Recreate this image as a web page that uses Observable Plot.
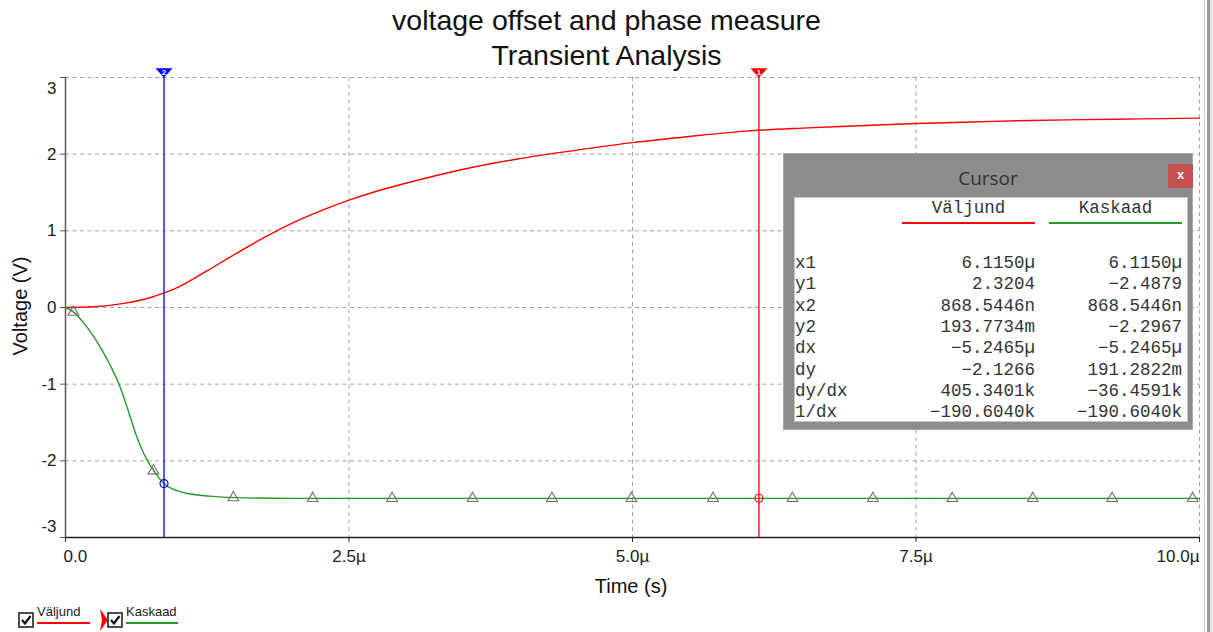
<!DOCTYPE html>
<html><head><meta charset="utf-8">
<script src="https://cdn.jsdelivr.net/npm/d3@7"></script>
<script src="https://cdn.jsdelivr.net/npm/@observablehq/plot@0.6"></script>
<style>
body{margin:0;background:#fff;width:1213px;height:632px;overflow:hidden;position:relative;font-family:"Liberation Sans",Arial,sans-serif;}
#chart{position:absolute;left:0;top:0;}
.title{position:absolute;left:0;width:1213px;text-align:center;font-size:28.5px;color:#111;line-height:32px;}
.ylab{position:absolute;left:20px;top:306px;transform:translate(-50%,-50%) rotate(-90deg);font-size:20px;color:#111;white-space:nowrap;}
.xlab{position:absolute;left:631px;top:586px;transform:translate(-50%,-50%);font-size:20px;color:#111;white-space:nowrap;}
#cursor{position:absolute;left:783px;top:153px;width:408px;height:275px;background:#8c8c8c;border:1px solid #a8a8a8;}
#cursor .ct{position:absolute;left:0;width:100%;top:11px;text-align:center;font-size:19px;color:#333;font-family:"Open Sans","Liberation Sans",sans-serif;}
#cursor .cx{position:absolute;left:384px;top:10px;width:25px;height:24px;background:#c75050;color:#fff;font-size:13px;font-weight:bold;text-align:center;line-height:22px;}
#panel{position:absolute;left:10px;top:43px;width:392px;height:223px;background:#fff;border:1px solid #c8c8c8;font-family:"Liberation Mono","Courier New",monospace;font-size:17.5px;color:#333;}
#panel div{position:absolute;white-space:pre;line-height:20px;}
.lg{position:absolute;font-size:13px;color:#222;white-space:nowrap;}
</style></head><body>
<div id="chart"></div>
<div class="title" style="top:4px">voltage offset and phase measure</div>
<div class="title" style="top:39px">Transient Analysis</div>
<div class="ylab">Voltage (V)</div>
<div class="xlab">Time (s)</div>
<div id="cursor"><div class="ct">Cursor</div><div class="cx">x</div><div id="panel"></div></div>
<div id="legend"></div>
<div style="position:absolute;left:1204px;top:0;width:1px;height:632px;background:#cfcfcf"></div>
<div style="position:absolute;left:1207px;top:0;width:3px;height:632px;background:#9a9a9a"></div>
<div style="position:absolute;left:1210px;top:0;width:3px;height:632px;background:#e4e4e4"></div>
<script>
// ---- data (time in µs, voltage in V) ----
const tRed = [0, 0.25, 0.5, 0.75, 0.87, 1.0, 1.25, 1.5, 1.75, 2.0, 2.25, 2.5, 2.75, 3.0, 3.5, 4.0, 4.5, 5.0, 5.5, 6.0, 6.5, 7.0, 7.5, 8.0, 8.5, 9.0, 9.5, 10.0];
const vRed = [0, 0.01, 0.05, 0.13, 0.19, 0.27, 0.48, 0.70, 0.91, 1.10, 1.26, 1.40, 1.52, 1.62, 1.80, 1.94, 2.05, 2.15, 2.23, 2.30, 2.34, 2.37, 2.40, 2.42, 2.44, 2.45, 2.46, 2.47];
const tGreen = [0, 0.08, 0.16, 0.24, 0.32, 0.40, 0.48, 0.55, 0.62, 0.67, 0.72, 0.78, 0.87, 0.95, 1.09, 1.27, 1.5, 2.0, 3.0, 5.0, 10.0];
const vGreen = [0, -0.07, -0.20, -0.36, -0.55, -0.77, -1.03, -1.33, -1.65, -1.84, -1.99, -2.13, -2.30, -2.37, -2.43, -2.46, -2.48, -2.49, -2.49, -2.49, -2.49];
const tMark = [0.07, 0.775, 1.48, 2.18, 2.88, 3.59, 4.29, 4.99, 5.71, 6.41, 7.12, 7.82, 8.53, 9.23, 9.94];
const vMark = [-0.06, -2.13, -2.48, -2.49, -2.49, -2.49, -2.49, -2.49, -2.49, -2.49, -2.49, -2.49, -2.49, -2.49, -2.49];
const cursorNames = ["1", "2"];
const cursorT = [6.115, 0.8685446];
const cursorColors = ["#ff0000", "#0000ff"];
const cursorHitV = [-2.4879, -2.2967];
const xTicks = [0, 2.5, 5, 7.5, 10];
const xTickLabels = ["0.0", "2.5µ", "5.0µ", "7.5µ", "10.0µ"];
const yTicks = [3, 2, 1, 0, -1, -2, -3];
const yTickLabels = ["3", "2", "1", "0", "-1", "-2", "-3"];
const seriesNames = ["Väljund", "Kaskaad"];
const seriesColors = ["#ff0000", "#239b23"];
const rowNames = ["x1", "y1", "x2", "y2", "dx", "dy", "dy/dx", "1/dx"];
const valjundVals = ["6.1150µ", "2.3204", "868.5446n", "193.7734m", "\u22125.2465µ", "\u22122.1266", "405.3401k", "\u2212190.6040k"];
const kaskaadVals = ["6.1150µ", "\u22122.4879", "868.5446n", "\u22122.2967", "\u22125.2465µ", "191.2822m", "\u221236.4591k", "\u2212190.6040k"];

const red = tRed.map((t, i) => ({t, v: vRed[i]}));
const green = tGreen.map((t, i) => ({t, v: vGreen[i]}));
const marks = tMark.map((t, i) => ({t, v: vMark[i]}));
const cursors = cursorT.map((t, i) => ({t, name: cursorNames[i], color: cursorColors[i], hv: cursorHitV[i]}));
const xl = xTicks.map((x, i) => ({x, s: xTickLabels[i]}));
const yl = yTicks.map((y, i) => ({y, s: yTickLabels[i]}));

const downTri = {draw(ctx) { ctx.moveTo(-8, -9); ctx.lineTo(8, -9); ctx.lineTo(0, 0); ctx.closePath(); }};
const grid = {stroke: "#a0a0a0", strokeOpacity: 1, strokeDasharray: "4,3.5"};
const ff = "'Liberation Sans', Arial, sans-serif";

const cursorMarks = cursors.flatMap(c => [
  Plot.ruleX([c], {x: "t", y1: () => -3, y2: () => 3, stroke: c.color, strokeWidth: 1.3}),
  Plot.dot([c], {x: "t", y: () => 3, symbol: downTri, fill: c.color, stroke: c.color, strokeWidth: 0.5}),
  Plot.text([c], {x: "t", y: () => 3, text: "name", dy: -5, fill: "#fff", fontSize: 8, fontWeight: "bold"}),
  Plot.dot([c], {x: "t", y: "hv", r: 4, stroke: c.color, fill: "none", strokeWidth: 1.2})
]);

const chart = Plot.plot({
  width: 1213, height: 632,
  marginTop: 77, marginLeft: 65, marginRight: 14, marginBottom: 95,
  x: {domain: [0, 10], axis: null},
  y: {domain: [-3, 3], axis: null},
  style: {fontFamily: ff, background: "transparent", color: "#222"},
  marks: [
    Plot.gridY(yTicks.filter(d => d > -3), grid),
    Plot.gridX(xTicks.filter(d => d > 0), grid),
    Plot.axisY(yTicks, {tickSize: 5, tickFormat: () => "", stroke: "#555", label: null}),
    Plot.axisX(xTicks, {tickSize: 5, tickFormat: () => "", stroke: "#222", label: null}),
    Plot.ruleX([0], {y1: () => -3, y2: () => 3, stroke: "#555", strokeWidth: 1.5}),
    Plot.ruleY([-3], {x1: () => 0, x2: () => 10, stroke: "#222", strokeWidth: 1.5}),
    Plot.text(yl.filter(d => Math.abs(d.y) < 3), {x: () => 0, y: "y", text: "s", dx: -9, textAnchor: "end", fontSize: 17, fill: "#222"}),
    Plot.text(yl.filter(d => d.y === 3), {x: () => 0, y: "y", text: "s", dx: -9, dy: 11, textAnchor: "end", fontSize: 17, fill: "#222"}),
    Plot.text(yl.filter(d => d.y === -3), {x: () => 0, y: "y", text: "s", dx: -9, dy: -11, textAnchor: "end", fontSize: 17, fill: "#222"}),
    Plot.text(xl.filter(d => d.x === 0), {x: "x", y: () => -3, text: "s", dy: 19, dx: -2, textAnchor: "start", fontSize: 17, fill: "#222"}),
    Plot.text(xl.filter(d => d.x > 0 && d.x < 10), {x: "x", y: () => -3, text: "s", dy: 19, textAnchor: "middle", fontSize: 17, fill: "#222"}),
    Plot.text(xl.filter(d => d.x === 10), {x: "x", y: () => -3, text: "s", dy: 19, textAnchor: "end", fontSize: 17, fill: "#222"}),
    Plot.line(red, {x: "t", y: "v", stroke: seriesColors[0], strokeWidth: 1.4, curve: "monotone-x"}),
    Plot.line(green, {x: "t", y: "v", stroke: seriesColors[1], strokeWidth: 1.4, curve: "monotone-x"}),
    Plot.dot(marks, {x: "t", y: "v", symbol: "triangle", r: 4, stroke: "#707070", fill: "none", strokeWidth: 1.1}),
    ...cursorMarks
  ]
});
document.getElementById("chart").appendChild(chart);

// cursor readout panel
const panel = document.getElementById("panel");
function add(parent, txt, style) { const d = document.createElement("div"); d.textContent = txt; Object.assign(d.style, style); parent.appendChild(d); return d; }
add(panel, seriesNames[0], {left: "107px", width: "133px", textAlign: "center", top: "0px"});
add(panel, seriesNames[1], {left: "254px", width: "133px", textAlign: "center", top: "0px"});
add(panel, "", {left: "107px", width: "133px", top: "24px", height: "2px", background: seriesColors[0]});
add(panel, "", {left: "254px", width: "133px", top: "24px", height: "2px", background: seriesColors[1]});
rowNames.forEach((r, i) => {
  const top = (55 + i * 21.3) + "px";
  add(panel, r, {left: "0px", top});
  add(panel, valjundVals[i], {right: (392 - 240) + "px", top, textAlign: "right"});
  add(panel, kaskaadVals[i], {right: (392 - 387) + "px", top, textAlign: "right"});
});

// legend
const legend = document.getElementById("legend");
const cb = x => `<svg style="position:absolute;left:${x}px;top:612px" width="16" height="16"><rect x="1" y="1" width="14" height="14" fill="#fff" stroke="#222" stroke-width="1.6"/><path d="M4 8 L7 11.5 L12.5 4" fill="none" stroke="#111" stroke-width="2.2"/></svg>`;
legend.innerHTML = cb(18) +
  `<div class="lg" style="left:37px;top:604px">${seriesNames[0]}</div><div style="position:absolute;left:37px;top:622px;width:53px;height:2px;background:${seriesColors[0]}"></div>` +
  `<svg style="position:absolute;left:100px;top:609px" width="9" height="22"><path d="M0 0 L8 11 L0 22 L2 11 Z" fill="#ff0000"/></svg>` +
  cb(107) +
  `<div class="lg" style="left:126px;top:604px">${seriesNames[1]}</div><div style="position:absolute;left:126px;top:622px;width:52px;height:2px;background:${seriesColors[1]}"></div>`;
</script>
</body></html>
